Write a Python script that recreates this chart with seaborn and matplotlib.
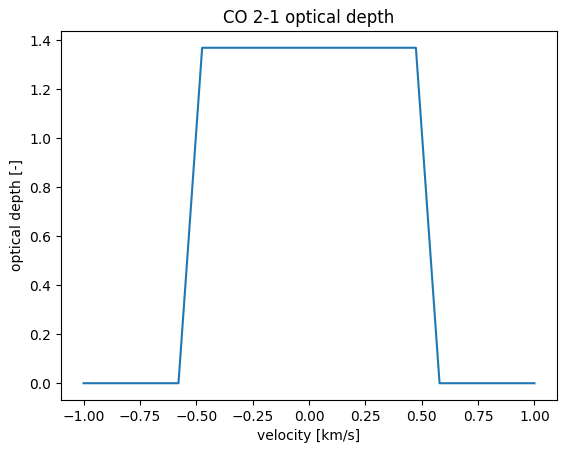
import matplotlib
matplotlib.use("Agg")
import matplotlib.pyplot as plt
import seaborn as sns
import pandas as pd

# velocity grid [km/s] and optical depth
velocity = [-1.000, -0.895, -0.789, -0.684, -0.579, -0.474, -0.368, -0.263,
            -0.158, -0.053, 0.053, 0.158, 0.263, 0.368, 0.474, 0.579,
            0.684, 0.789, 0.895, 1.000]
tau = [0.0, 0.0, 0.0, 0.0, 0.0, 1.37, 1.37, 1.37, 1.37, 1.37,
       1.37, 1.37, 1.37, 1.37, 1.37, 0.0, 0.0, 0.0, 0.0, 0.0]

df = pd.DataFrame({"velocity": velocity, "tau": tau})

fig = plt.figure(figsize=(5.67, 4.53), dpi=100)
ax = fig.add_axes([0.1076, 0.117, 0.8748, 0.8146])
sns.lineplot(data=df, x="velocity", y="tau", ax=ax, color="#1f77b4")

ax.set_xlabel("velocity [km/s]")
ax.set_ylabel("optical depth [-]")
ax.set_title("CO 2-1 optical depth")

fig.savefig("out.png", dpi=100)
